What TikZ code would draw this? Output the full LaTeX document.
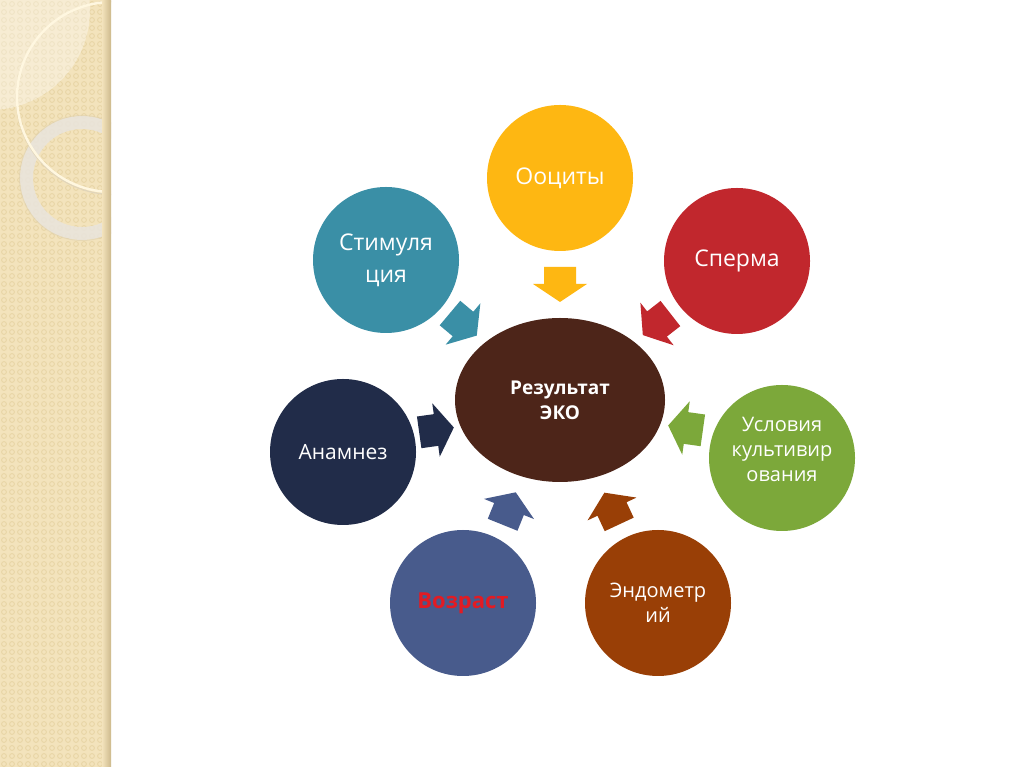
\documentclass[tikz,border=0pt]{standalone}
\usepackage{fontspec}
\setmainfont{Open Sans}
\usetikzlibrary{shapes.geometric}
\definecolor{cYel}{HTML}{FEB712}
\definecolor{cRed}{HTML}{C1272D}
\definecolor{cTeal}{HTML}{3A8FA6}
\definecolor{cNavy}{HTML}{212C49}
\definecolor{cGreen}{HTML}{7CA83A}
\definecolor{cBlue}{HTML}{485B8C}
\definecolor{cBrown}{HTML}{993F06}
\definecolor{cCenter}{HTML}{4D2519}
\definecolor{cAge}{HTML}{E21B23}
\definecolor{cBand}{HTML}{F3E3BC}
\definecolor{cBandDot}{HTML}{E8D5A6}
\definecolor{cBandEdge}{HTML}{CDB98C}
\definecolor{cRing}{HTML}{E9E5DD}
\definecolor{cThin}{HTML}{FFF7E0}
\newcommand\blkarrow[4]{%
  \fill[#1, shift={(#2,#3)}, rotate=#4]
    (-17,-16) -- (0,-16) -- (0,-27) -- (18,0) -- (0,27) -- (0,16) -- (-17,16) -- cycle;}
\tikzset{
  bubble/.style={circle, minimum size=146pt, inner sep=0pt, text=white, align=center},
  bigtxt/.style={font=\fontsize{23}{32}\selectfont},
  smalltxt/.style={font=\fontsize{20}{25}\selectfont},
}
\begin{document}
\begin{tikzpicture}[x=1pt,y=1pt]
\useasboundingbox (0,0) rectangle (1024,767);
\fill[white] (0,0) rectangle (1024,767);
% decorative left band
\begin{scope}
  \clip (0,0) rectangle (111,767);
  \fill[cBand] (0,0) rectangle (111,767);
  \foreach \x in {4,12,...,108} {
    \foreach \y in {3,11,...,767} {
      \draw[cBandDot, line width=0.9pt] (\x,\y) circle (2.4);
    }
  }
  \fill[white, opacity=0.35] (-10,757) circle (100);
  \draw[cRing, opacity=0.85, line width=13pt] (82,589) circle (55.5);
  \draw[cBandEdge!70, opacity=0.5, line width=1pt] (82,589) circle (62.5);
  \draw[cBandEdge!60, line width=1.2pt] (113,669) circle (96.5);
  \draw[cThin, line width=2.4pt] (112,670) circle (95);
  \shade[left color=cBand, right color=cBandEdge] (102,0) rectangle (111,767);
\end{scope}
% central node
\node[ellipse, minimum width=210pt, minimum height=164pt, inner sep=0pt, fill=cCenter,
      text=white, align=center, font=\bfseries\fontsize{19}{25}\selectfont] (res) at (560,367) {Результат\\ЭКО};
% outer nodes
\node[bubble, bigtxt, fill=cYel] (oo) at (560,589) {Ооциты};
\node[bubble, bigtxt, fill=cTeal] (stim) at (386,507) {Стимуля\\ция};
\node[bubble, bigtxt, fill=cRed] (sp) at (737,506) {Сперма};
\node[bubble, font=\fontsize{21}{26}\selectfont, fill=cNavy] (an) at (343,315) {Анамнез};
\node[bubble, smalltxt, fill=cGreen] (usl) at (782,309) {Условия\\культивир\\ования\\[-8pt]\mbox{}};
\node[bubble, fill=cBlue, text=cAge, font=\bfseries\fontsize{22}{26}\selectfont] (voz) at (463,164) {Возраст};
\node[bubble, smalltxt, fill=cBrown] (endo) at (658,164) {Эндометр\\ий};
% block arrows
\blkarrow{cYel}{560}{483}{-90}
\blkarrow{cTeal}{463}{443}{-40}
\blkarrow{cRed}{657}{443}{-142}
\blkarrow{cNavy}{436}{337}{8}
\blkarrow{cGreen}{686}{339}{172}
\blkarrow{cBlue}{509}{258}{68}
\blkarrow{cBrown}{612}{258}{115}
\end{tikzpicture}
\end{document}
